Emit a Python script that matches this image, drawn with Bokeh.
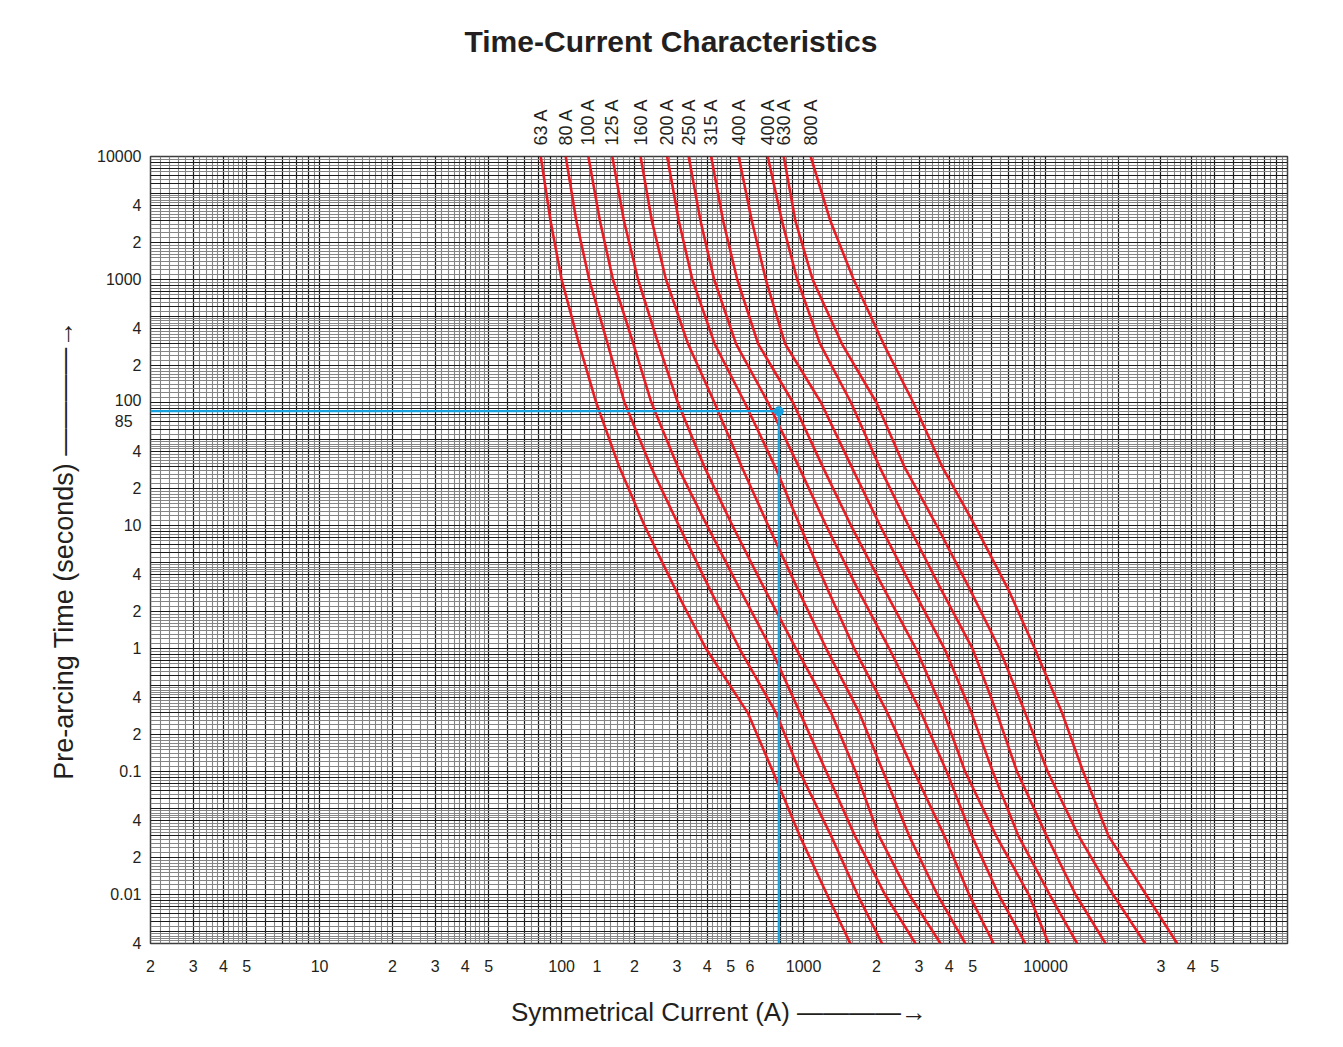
from bokeh.plotting import figure
from bokeh.models import Range1d, LogAxis, FixedTicker, Grid
from bokeh.embed import file_html
from bokeh.resources import INLINE

# ---------------- data ----------------
title_text = "Time-Current Characteristics"
x_label = "Symmetrical Current (A) \u2014\u2014\u2014\u2014\u2192"
y_label = "Pre-arcing Time (seconds) \u2014\u2014\u2014\u2014\u2192"

# pre-arcing time (s) at which each curve was read
times = [10000, 3000, 1000, 300, 100, 30, 10, 3, 1, 0.3, 0.1, 0.03, 0.01, 0.004]

ratings = ["63 A", "80 A", "100 A", "125 A", "160 A", "200 A",
           "250 A", "315 A", "400 A", "400 A", "630 A", "800 A"]

# symmetrical current (A) of each curve at the times above
i_63 = [82, 90, 100, 118, 139, 173, 220, 296, 395, 588, 747, 964, 1250, 1560]
i_80 = [104, 115, 130, 155, 182, 234, 305, 411, 543, 770, 963, 1300, 1670, 2110]
i_100 = [129, 144, 163, 198, 235, 302, 399, 547, 733, 967, 1240, 1630, 2170, 2900]
i_125 = [162, 181, 207, 251, 302, 389, 508, 693, 930, 1300, 1640, 2050, 2730, 3680]
i_160 = [212, 236, 270, 333, 428, 555, 714, 949, 1240, 1700, 2130, 2730, 3570, 4660]
i_200 = [273, 305, 347, 429, 571, 763, 965, 1260, 1620, 2220, 2860, 3820, 4830, 6100]
i_250 = [335, 375, 427, 526, 713, 956, 1240, 1680, 2260, 3060, 3900, 4960, 6400, 8250]
i_315 = [415, 465, 532, 649, 904, 1200, 1570, 2160, 2910, 3800, 4650, 6250, 8520, 10300]
i_400 = [539, 611, 698, 839, 1180, 1580, 2070, 2840, 3820, 4940, 6050, 7720, 10400, 13500]
i_400b = [711, 814, 941, 1170, 1570, 2060, 2710, 3710, 4990, 6290, 7620, 10100, 13300, 17700]
i_630 = [828, 925, 1090, 1440, 2000, 2610, 3550, 4880, 6440, 8240, 10200, 13700, 19000, 25800]
i_800 = [1070, 1290, 1610, 2140, 2840, 3740, 5110, 7030, 9020, 11700, 14300, 18200, 26000, 35000]
curves = [i_63, i_80, i_100, i_125, i_160, i_200, i_250, i_315, i_400, i_400b, i_630, i_800]

# example read-off (blue guide)
guide_current = 790
guide_time = 85

x_min, x_max = 2, 100000
y_min, y_max = 0.004, 10000

x_tick_values = [2, 3, 4, 5, 10, 20, 30, 40, 50, 100, 140, 200, 300, 400, 500, 600,
                 1000, 2000, 3000, 4000, 5000, 10000, 30000, 40000, 50000]
x_tick_labels = ["2", "3", "4", "5", "10", "2", "3", "4", "5", "100", "1", "2", "3", "4",
                 "5", "6", "1000", "2", "3", "4", "5", "10000", "3", "4", "5"]

y_tick_values = [0.004, 0.01, 0.02, 0.04, 0.1, 0.2, 0.4, 1, 2, 4, 10, 20, 40, 85,
                 200, 400, 1000, 2000, 4000, 10000]
y_tick_labels = ["4", "0.01", "2", "4", "0.1", "2", "4", "1", "2", "4", "10", "2", "4",
                 "100\n  85", "2", "4", "1000", "2", "4", "10000"]

# log-paper rulings (per decade multipliers)
rule_major = [1, 2, 3, 4, 5, 6, 7, 8, 9]
rule_minor = [1.1, 1.2, 1.3, 1.4, 1.5, 1.6, 1.7, 1.8, 1.9,
              2.2, 2.4, 2.6, 2.8, 3.2, 3.4, 3.6, 3.8, 4.2, 4.4, 4.6, 4.8,
              5.5, 6.5, 7.5, 8.5, 9.5]

# ---------------- styling ----------------
FONT = "Liberation Sans"
TEXT = "#231f20"
RED = "#ea1d25"
BLUE = "#17a2df"


def rulings(lo, hi, mults):
    return [m * 10.0 ** e for e in range(lo, hi + 1) for m in mults]


p = figure(x_axis_type="log", y_axis_type="log",
           x_range=Range1d(x_min, x_max), y_range=Range1d(y_min, y_max),
           frame_width=1137, frame_height=787,
           min_border_left=150, min_border_right=48,
           min_border_top=156, min_border_bottom=96,
           output_backend="svg", toolbar_location=None, title=title_text)

p.background_fill_color = "white"
p.border_fill_color = "white"
p.outline_line_color = "#3c3c3c"
p.outline_line_width = 1.5
p.xgrid.visible = False
p.ygrid.visible = False

for dim, lo, hi in ((0, 0, 5), (1, -3, 4)):
    g = Grid(dimension=dim,
             ticker=FixedTicker(ticks=rulings(lo, hi, rule_major),
                                minor_ticks=rulings(lo, hi, rule_minor)),
             grid_line_color="#1c1c1c", grid_line_width=1.2,
             minor_grid_line_color="#858585", minor_grid_line_width=1.1,
             level="underlay")
    p.add_layout(g)

for cur in curves:
    p.line(cur, times, line_color=RED, line_width=2.6)

p.line([x_min, guide_current], [guide_time, guide_time], line_color=BLUE, line_width=2.2)
p.line([guide_current, guide_current], [guide_time, y_min], line_color=BLUE, line_width=2.2)
p.scatter([guide_current], [guide_time], size=9, color=BLUE)

# title
p.title.text_font = FONT
p.title.text_font_size = "30px"
p.title.text_font_style = "bold"
p.title.text_color = TEXT
p.title.align = "left"
p.title.offset = 314
p.title.standoff = 42

# bottom axis
xa = p.xaxis[0]
xa.ticker = FixedTicker(ticks=x_tick_values)
xa.major_label_overrides = dict(zip(x_tick_values, x_tick_labels))
xa.axis_label = x_label

# left axis
ya = p.yaxis[0]
ya.ticker = FixedTicker(ticks=y_tick_values)
ya.major_label_overrides = dict(zip(y_tick_values, y_tick_labels))
ya.axis_label = y_label

for ax in (xa, ya):
    ax.axis_line_color = None
    ax.major_tick_line_color = None
    ax.minor_tick_line_color = None
    ax.major_tick_out = 0
    ax.major_tick_in = 0
    ax.minor_tick_out = 0
    ax.minor_tick_in = 0
    ax.major_label_text_font = FONT
    ax.major_label_text_font_size = "16px"
    ax.major_label_text_color = TEXT
    ax.axis_label_text_font = FONT
    ax.axis_label_text_font_style = "normal"
    ax.axis_label_text_color = TEXT

xa.axis_label_text_font_size = "26px"
ya.axis_label_text_font_size = "27px"
xa.major_label_standoff = 16
xa.axis_label_standoff = 22
ya.major_label_standoff = 9
ya.axis_label_standoff = 15

# curve ratings along the top
tops = [c[0] for c in curves]
top_axis = LogAxis(ticker=FixedTicker(ticks=tops),
                   major_label_overrides=dict(zip(tops, ratings)),
                   major_label_orientation="vertical",
                   axis_line_color=None, major_tick_line_color=None,
                   minor_tick_line_color=None,
                   major_tick_out=0, major_tick_in=0,
                   minor_tick_out=0, minor_tick_in=0,
                   major_label_standoff=11,
                   major_label_text_font=FONT,
                   major_label_text_font_size="18px",
                   major_label_text_color=TEXT,
                   axis_label=" ", axis_label_standoff=0,
                   axis_label_text_font_size="12px")
p.add_layout(top_axis, "above")

open("out.html", "w").write(file_html(p, INLINE))
